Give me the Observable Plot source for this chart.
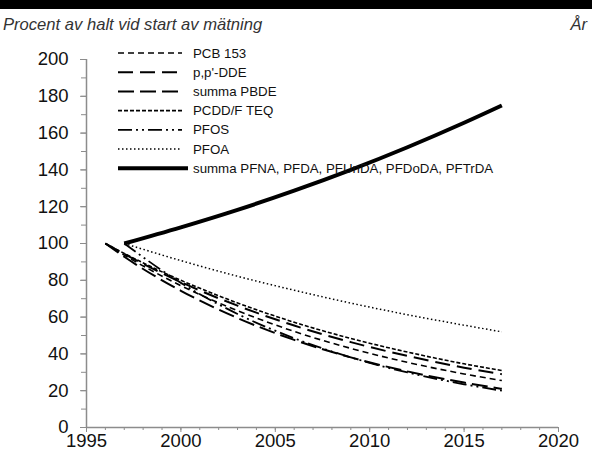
<!DOCTYPE html>
<html><head><meta charset="utf-8">
<script src="https://cdn.jsdelivr.net/npm/d3@7"></script>
<script src="https://cdn.jsdelivr.net/npm/@observablehq/plot@0.6"></script>
<style>
body{margin:0;background:#fff;font-family:"Liberation Sans",Arial,sans-serif;}
#wrap{width:592px;height:461px;position:relative;overflow:hidden;background:#fff;}
#bar{height:9px;background:#000;}
#sub{height:27px;box-sizing:border-box;padding:7px 5px 0 3px;font-style:italic;font-size:16.6px;line-height:18px;color:#333;display:flex;justify-content:space-between;}
</style></head><body>
<div id="wrap"><div id="bar"></div><div id="sub"><span>Procent av halt vid start av mätning</span><span>År</span></div><div id="chart"></div></div>
<script>
// ---- data ----
const seriesNames = ["PCB 153", "p,p'-DDE", "summa PBDE", "PCDD/F TEQ", "PFOS", "PFOA", "summa PFNA, PFDA, PFUnDA, PFDoDA, PFTrDA"];
const yearsFrom1996 = [1996, 1997, 2000, 2003, 2006, 2009, 2012, 2015, 2017];
const yearsFrom1997 = [1997, 2000, 2003, 2006, 2009, 2012, 2015, 2017];
const pcb153     = [100, 93.7, 77.1, 63.5, 52.2, 43.0, 35.4, 29.1, 25.5];
const ppDDE      = [100, 94.3, 79.0, 66.2, 55.4, 46.4, 38.9, 32.5, 29.0];
const summaPBDE  = [100, 92.8, 74.3, 59.5, 47.6, 38.1, 30.5, 24.4, 21.0];
const pcddfTEQ   = [100, 94.6, 80.0, 67.7, 57.2, 48.4, 41.0, 34.6, 31.0];
const pfos       = [100, 78.6, 61.7, 48.5, 38.1, 29.9, 23.5, 20.0];
const pfoa       = [100, 90.7, 82.2, 74.6, 67.6, 61.3, 55.6, 52.0];
const summaPFCA  = [100, 108.8, 118.3, 128.7, 140.0, 152.3, 165.6, 175.0];
const xTickLabels = [1995, 2000, 2005, 2010, 2015, 2020];
const yTickLabels = [0, 20, 40, 60, 80, 100, 120, 140, 160, 180, 200];

// ---- build table ----
const seriesData = [
  [seriesNames[0], yearsFrom1996, pcb153],
  [seriesNames[1], yearsFrom1996, ppDDE],
  [seriesNames[2], yearsFrom1996, summaPBDE],
  [seriesNames[3], yearsFrom1996, pcddfTEQ],
  [seriesNames[4], yearsFrom1997, pfos],
  [seriesNames[5], yearsFrom1997, pfoa],
  [seriesNames[6], yearsFrom1997, summaPFCA]
];
const styles = {
  "PCB 153": {dash: "6,4", w: 1.6},
  "p,p'-DDE": {dash: "15,7", w: 2},
  "summa PBDE": {dash: "16,6", w: 2},
  "PCDD/F TEQ": {dash: "4,2", w: 1.6},
  "PFOS": {dash: "14,4,2,4,2,4", w: 1.8},
  "PFOA": {dash: "1.5,2.5", w: 1.5},
  "summa PFNA, PFDA, PFUnDA, PFDoDA, PFTrDA": {dash: null, w: 4}
};

const lineMarks = seriesData.map(([name, yrs, vals]) => {
  const rows = yrs.map((yr, i) => ({year: yr, value: vals[i]}));
  const s = styles[name];
  return Plot.line(rows, {x: "year", y: "value", curve: "monotone-x", stroke: "#000",
    strokeWidth: s.w, strokeDasharray: s.dash ?? undefined, strokeLinecap: "butt"});
});

const axisColor = "#8c8c8c";
const chart = Plot.plot({
  width: 592, height: 425,
  marginTop: 23, marginBottom: 34, marginLeft: 86, marginRight: 34,
  style: {fontFamily: "'Liberation Sans', Arial, sans-serif", fontSize: "18.5px", color: "#111", background: "#fff"},
  x: {domain: [1995, 2020], axis: null},
  y: {domain: [0, 200], axis: null},
  marks: [
    Plot.axisY(d3.range(0, 201, 10), {tickSize: 5, tickFormat: () => "", stroke: axisColor, label: null}),
    Plot.axisY(yTickLabels, {tickSize: 6, tickPadding: 12, stroke: axisColor, fill: "#111", fontSize: 18.5, tickFormat: d => String(d), label: null}),
    Plot.axisX(d3.range(1995, 2021, 1), {tickSize: 3, tickFormat: () => "", stroke: axisColor, label: null}),
    Plot.axisX(xTickLabels, {tickSize: 5, tickPadding: 1, stroke: axisColor, fill: "#111", fontSize: 18.5, tickFormat: d => String(d), label: null}),
    Plot.ruleX([1995], {y1: 0, y2: 200, stroke: axisColor, strokeWidth: 1.5}),
    Plot.ruleY([0], {x1: 1995, x2: 2020, stroke: axisColor, strokeWidth: 1.5}),
    ...lineMarks
  ]
});
document.getElementById("chart").appendChild(chart);

// ---- legend inside the plot area ----
const svg = d3.select(chart);
const lg = svg.append("g").attr("transform", "translate(118,17)").attr("text-anchor", "start");
seriesNames.forEach((name, i) => {
  const s = styles[name];
  const row = lg.append("g").attr("transform", `translate(0,${i * 19.2})`);
  row.append("line").attr("x1", 0).attr("x2", name.startsWith("summa PFNA") ? 70 : 64)
    .attr("y1", 0).attr("y2", 0).attr("stroke", "#000").attr("stroke-width", s.w)
    .attr("stroke-dasharray", s.dash ?? null);
  row.append("text").attr("x", 75).attr("y", 0).attr("dy", "0.35em").attr("text-anchor", "start")
    .attr("font-size", 13.3).attr("fill", "#111").text(name);
});
</script>
</body></html>
